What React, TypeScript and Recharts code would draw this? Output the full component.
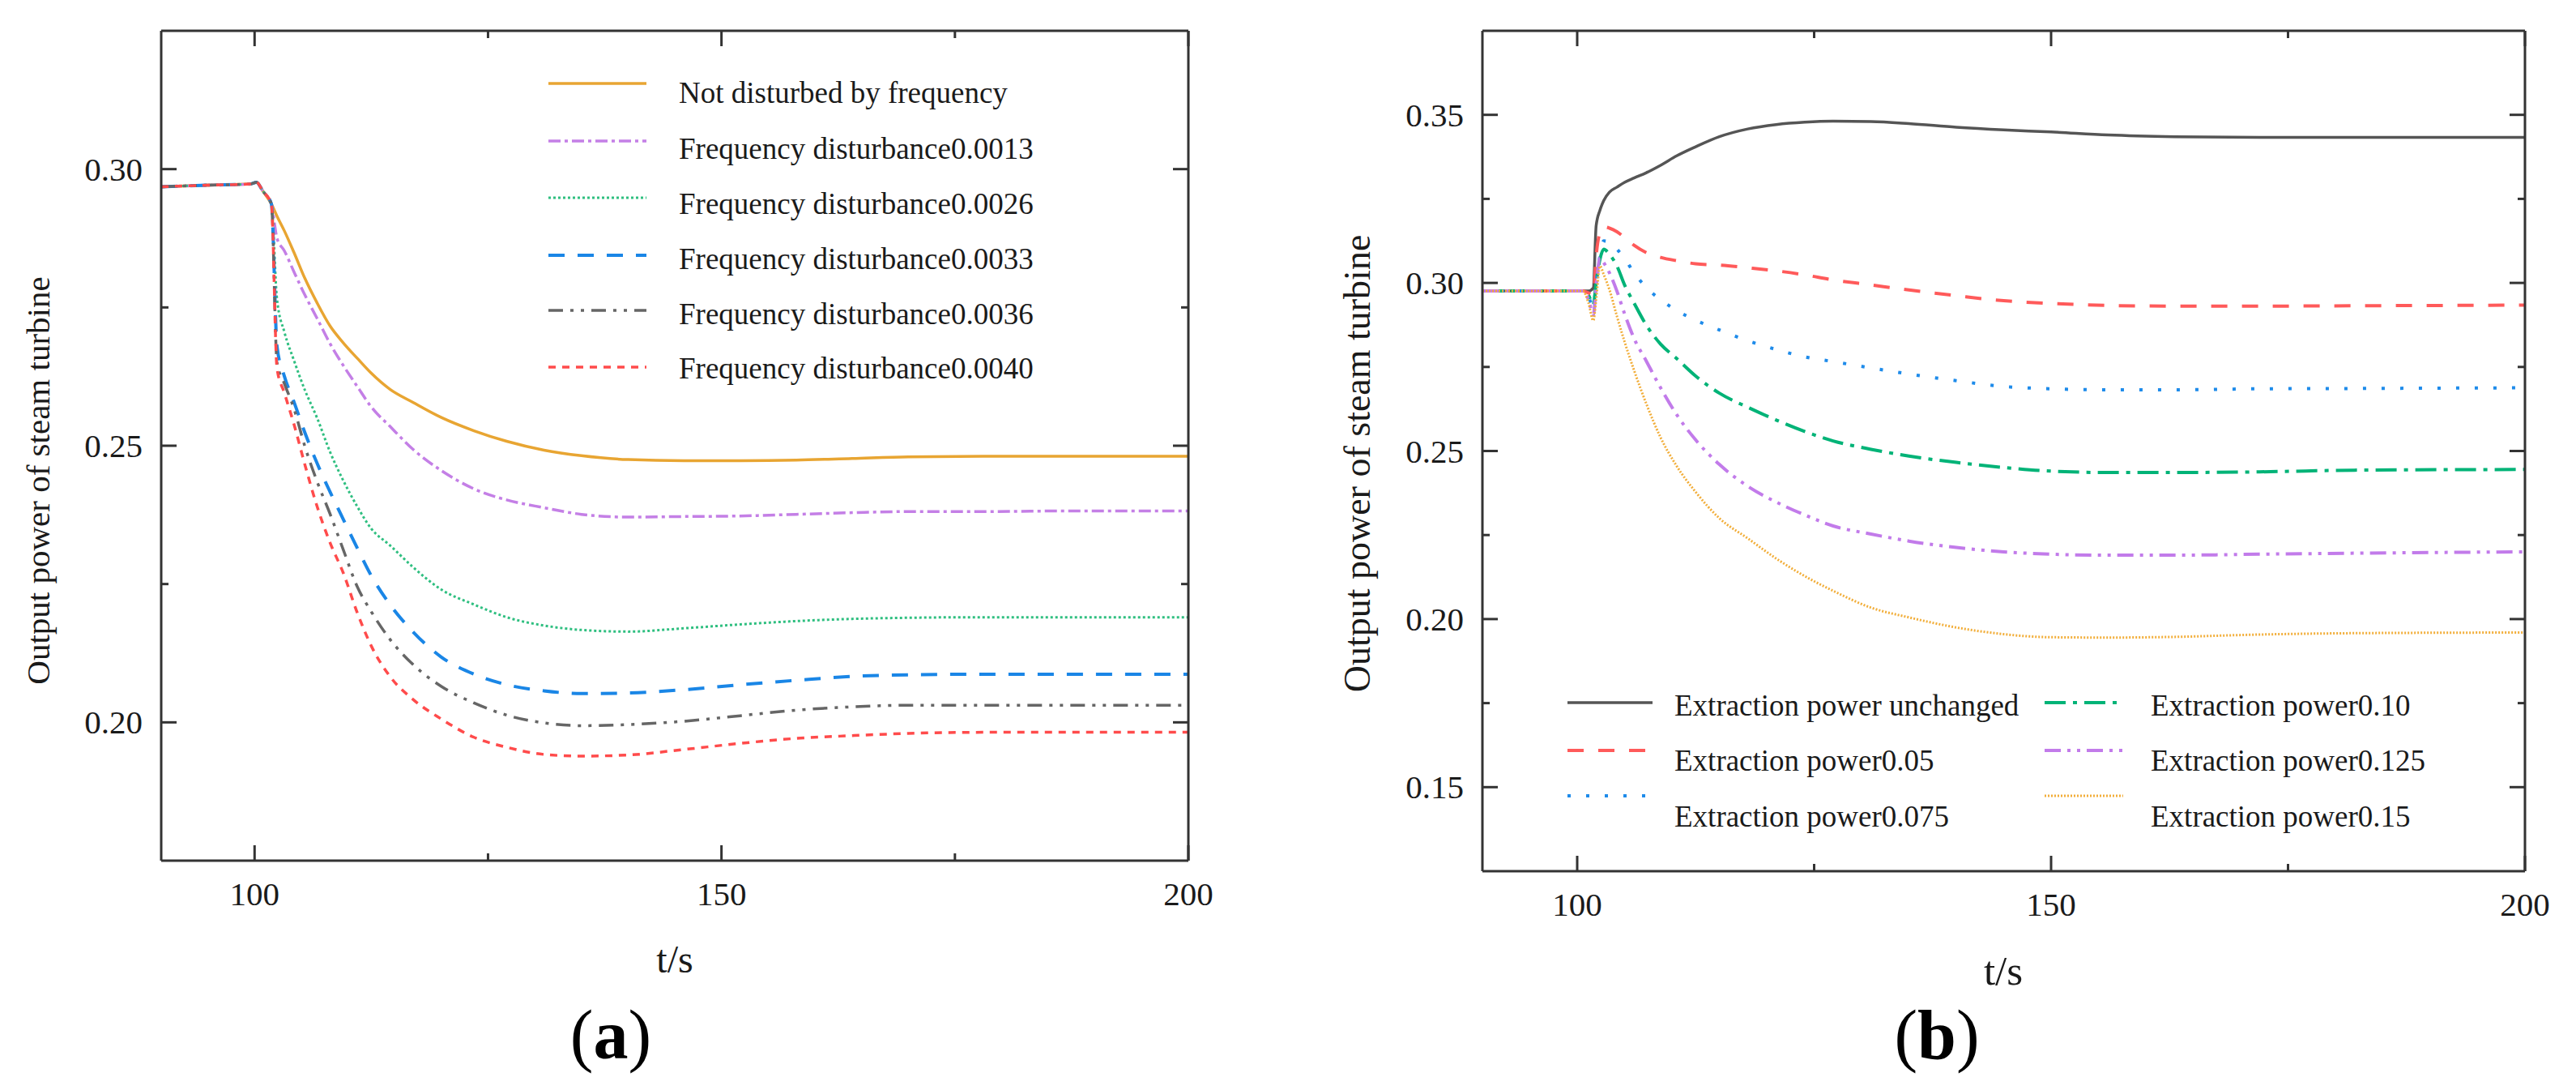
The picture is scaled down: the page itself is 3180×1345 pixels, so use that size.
import React from 'react';
import { LineChart, Line, XAxis, YAxis, Legend } from 'recharts';

const SERIF = '"Liberation Serif", "Times New Roman", Times, serif';
const AXIS = '#333333';
const TEXT = '#1a1a1a';

// ---------- panel (a): frequency disturbance ----------
const timeA = [90, 95, 99.5, 100.2, 100.9, 101.8, 102.4, 103.2, 104.2, 105.4, 106.7, 108.1, 109.5, 111, 112.5, 114.5, 117, 120, 123.5, 127, 131, 135, 140, 146, 152, 158, 164, 170, 178, 186, 200];
const notDisturbed = [0.2968, 0.2971, 0.2973, 0.2976, 0.2960, 0.2937, 0.2915, 0.2888, 0.2850, 0.2802, 0.2758, 0.2716, 0.2686, 0.2658, 0.2631, 0.2602, 0.2578, 0.2551, 0.2527, 0.2508, 0.2492, 0.2482, 0.2475, 0.2473, 0.2473, 0.2474, 0.2477, 0.2480, 0.2481, 0.2481, 0.2481];
const dist0013 = [0.2968, 0.2971, 0.2973, 0.2976, 0.2960, 0.2937, 0.2875, 0.2852, 0.2815, 0.2772, 0.2730, 0.2684, 0.2645, 0.2607, 0.2570, 0.2535, 0.2493, 0.2455, 0.2422, 0.2402, 0.2388, 0.2376, 0.2371, 0.2372, 0.2373, 0.2376, 0.2379, 0.2381, 0.2381, 0.2382, 0.2382];
const dist0026 = [0.2968, 0.2971, 0.2973, 0.2976, 0.2960, 0.2937, 0.2765, 0.2705, 0.2655, 0.2600, 0.2550, 0.2488, 0.2437, 0.2390, 0.2350, 0.2320, 0.2280, 0.2240, 0.2213, 0.2190, 0.2175, 0.2167, 0.2164, 0.2170, 0.2177, 0.2183, 0.2187, 0.2189, 0.2190, 0.2190, 0.2190];
const dist0033 = [0.2968, 0.2971, 0.2973, 0.2976, 0.2960, 0.2937, 0.2680, 0.2625, 0.2580, 0.2523, 0.2468, 0.2416, 0.2367, 0.2315, 0.2265, 0.2213, 0.2163, 0.2118, 0.2087, 0.2068, 0.2057, 0.2052, 0.2053, 0.2059, 0.2068, 0.2076, 0.2083, 0.2086, 0.2087, 0.2087, 0.2087];
const dist0036 = [0.2968, 0.2971, 0.2973, 0.2976, 0.2960, 0.2937, 0.2650, 0.2612, 0.2568, 0.2498, 0.2435, 0.2376, 0.2312, 0.2245, 0.2200, 0.2150, 0.2104, 0.2065, 0.2035, 0.2013, 0.1999, 0.1994, 0.1996, 0.2002, 0.2012, 0.2022, 0.2028, 0.2031, 0.2031, 0.2031, 0.2031];
const dist0040 = [0.2968, 0.2971, 0.2973, 0.2976, 0.2960, 0.2937, 0.2640, 0.2595, 0.2540, 0.2465, 0.2390, 0.2324, 0.2270, 0.2198, 0.2138, 0.2083, 0.2041, 0.2006, 0.1973, 0.1955, 0.1942, 0.1939, 0.1941, 0.1951, 0.1962, 0.1971, 0.1976, 0.1980, 0.1982, 0.1982, 0.1982];

// ---------- panel (b): extraction power ----------
const timeB = [90, 100, 100.6, 101.2, 101.7, 102, 102.4, 102.8, 103.4, 104.2, 105, 106, 107.3, 108.8, 110.5, 112.5, 115, 118, 121, 124, 127, 131, 135, 140, 145, 150, 156, 163, 172, 182, 200];
const extUnchanged = [0.2976, 0.2976, 0.2976, 0.2976, 0.2985, 0.3170, 0.3216, 0.3245, 0.3270, 0.3285, 0.3299, 0.3312, 0.3328, 0.3350, 0.3378, 0.3405, 0.3435, 0.3458, 0.3471, 0.3478, 0.3481, 0.3480, 0.3474, 0.3463, 0.3455, 0.3449, 0.3440, 0.3435, 0.3433, 0.3433, 0.3433];
const ext005 = [0.2976, 0.2976, 0.2976, 0.2970, 0.2965, 0.3080, 0.3150, 0.3167, 0.3163, 0.3152, 0.3135, 0.3112, 0.3090, 0.3076, 0.3066, 0.3057, 0.3053, 0.3045, 0.3036, 0.3024, 0.3009, 0.2994, 0.2979, 0.2962, 0.2947, 0.2939, 0.2933, 0.2931, 0.2931, 0.2932, 0.2934];
const ext0075 = [0.2976, 0.2976, 0.2976, 0.2958, 0.2928, 0.3000, 0.3080, 0.3125, 0.3122, 0.3100, 0.3073, 0.3030, 0.2986, 0.2950, 0.2918, 0.2889, 0.2860, 0.2828, 0.2802, 0.2780, 0.2766, 0.2747, 0.2729, 0.2709, 0.2692, 0.2685, 0.2682, 0.2682, 0.2685, 0.2686, 0.2688];
const ext010 = [0.2976, 0.2976, 0.2976, 0.2963, 0.2935, 0.3000, 0.3070, 0.3100, 0.3085, 0.3050, 0.2994, 0.2940, 0.2874, 0.2818, 0.2775, 0.2723, 0.2672, 0.2630, 0.2592, 0.2558, 0.2530, 0.2505, 0.2485, 0.2466, 0.2451, 0.2440, 0.2436, 0.2436, 0.2438, 0.2443, 0.2445];
const ext0125 = [0.2976, 0.2976, 0.2976, 0.2950, 0.2905, 0.2990, 0.3075, 0.3060, 0.3030, 0.2975, 0.2908, 0.2835, 0.2767, 0.2688, 0.2608, 0.2533, 0.2460, 0.2395, 0.2348, 0.2310, 0.2277, 0.2253, 0.2232, 0.2213, 0.2200, 0.2193, 0.2190, 0.2190, 0.2193, 0.2196, 0.2200];
const ext015 = [0.2976, 0.2976, 0.2976, 0.2940, 0.2888, 0.2950, 0.3050, 0.3025, 0.2980, 0.2900, 0.2825, 0.2740, 0.2640, 0.2540, 0.2455, 0.2378, 0.2300, 0.2240, 0.2180, 0.2128, 0.2084, 0.2034, 0.2005, 0.1975, 0.1955, 0.1946, 0.1945, 0.1947, 0.1954, 0.1958, 0.1960];

// ticks
const xTicks = [100, 125, 150, 175, 200];
const xMajor = [100, 150, 200];
const yTicksA = [0.2, 0.225, 0.25, 0.275, 0.3];
const yMajorA = [0.2, 0.25, 0.3];
const yTicksB = [0.15, 0.175, 0.2, 0.225, 0.25, 0.275, 0.3, 0.325, 0.35];
const yMajorB = [0.15, 0.2, 0.25, 0.3, 0.35];

type Series = { key: string; name: string; color: string; dash?: string; width: number };

const seriesA: Series[] = [
  { key: 'notDisturbed', name: 'Not disturbed by frequency', color: '#E8A532', width: 3.5 },
  { key: 'd0013', name: 'Frequency disturbance0.0013', color: '#C47FE6', dash: '15 5 4 5', width: 3.5 },
  { key: 'd0026', name: 'Frequency disturbance0.0026', color: '#2FBF80', dash: '3 3', width: 3 },
  { key: 'd0033', name: 'Frequency disturbance0.0033', color: '#1A86E6', dash: '20 16', width: 4 },
  { key: 'd0036', name: 'Frequency disturbance0.0036', color: '#666666', dash: '18 9 4 9 4 9', width: 3.5 },
  { key: 'd0040', name: 'Frequency disturbance0.0040', color: '#FF4B4B', dash: '9 8', width: 3.5 },
];

const seriesB: Series[] = [
  { key: 'unchanged', name: 'Extraction power unchanged', color: '#555555', width: 3.5 },
  { key: 'e005', name: 'Extraction power0.05', color: '#FF5A5A', dash: '20 18', width: 4 },
  { key: 'e0075', name: 'Extraction power0.075', color: '#1E8BEA', dash: '4 19', width: 4 },
  { key: 'e010', name: 'Extraction power0.10', color: '#00B377', dash: '26 9 5 9', width: 4 },
  { key: 'e0125', name: 'Extraction power0.125', color: '#C27BEA', dash: '20 8 4 8 4 8', width: 4 },
  { key: 'e015', name: 'Extraction power0.15', color: '#F2AE3A', dash: '2 2', width: 3 },
];

const rowsA = timeA.map((t, i) => ({
  t,
  notDisturbed: notDisturbed[i],
  d0013: dist0013[i],
  d0026: dist0026[i],
  d0033: dist0033[i],
  d0036: dist0036[i],
  d0040: dist0040[i],
}));

const rowsB = timeB.map((t, i) => ({
  t,
  unchanged: extUnchanged[i],
  e005: ext005[i],
  e0075: ext0075[i],
  e010: ext010[i],
  e0125: ext0125[i],
  e015: ext015[i],
}));

type Side = 'bottom' | 'top' | 'left' | 'right';

// inward tick marks on all four sides, labels only on bottom/left majors
const makeTick = (side: Side, majors: number[], fmt?: (v: number) => string) => (props: any) => {
  const { x, y, payload } = props;
  const v = Number(payload.value);
  const major = majors.some((m) => Math.abs(m - v) < 1e-9);
  const len = major ? 19 : 9;
  let pts;
  if (side === 'bottom') pts = { x1: x, x2: x, y1: y, y2: y - len };
  else if (side === 'top') pts = { x1: x, x2: x, y1: y, y2: y + len };
  else if (side === 'left') pts = { x1: x, x2: x + len, y1: y, y2: y };
  else pts = { x1: x, x2: x - len, y1: y, y2: y };
  return (
    <g>
      <line {...pts} stroke={AXIS} strokeWidth={3} />
      {major && fmt && side === 'bottom' && (
        <text x={x} y={y + 55} textAnchor="middle" fontFamily={SERIF} fontSize={41} fill={TEXT}>
          {fmt(v)}
        </text>
      )}
      {major && fmt && side === 'left' && (
        <text x={x - 23} y={y + 14} textAnchor="end" fontFamily={SERIF} fontSize={41} fill={TEXT}>
          {fmt(v)}
        </text>
      )}
    </g>
  );
};

const fmtX = (v: number) => String(v);
const fmtY = (v: number) => v.toFixed(2);
const axisLine = { stroke: AXIS, strokeWidth: 3 };

type LegendSpot = { x1: number; x2: number; lineY: number; tx: number; ty: number };

const legendSpotsA: LegendSpot[] = [103, 174, 244, 315, 383, 453].map((lineY, i) => ({
  x1: 677,
  x2: 798,
  lineY,
  tx: 838,
  ty: [127, 196, 264, 332, 400, 467][i],
}));

const legendSpotsB: LegendSpot[] = [
  { x1: 345, x2: 450, lineY: 867, tx: 477, ty: 883 },
  { x1: 345, x2: 450, lineY: 926, tx: 477, ty: 951 },
  { x1: 345, x2: 450, lineY: 982, tx: 477, ty: 1020 },
  { x1: 934, x2: 1031, lineY: 867, tx: 1065, ty: 883 },
  { x1: 934, x2: 1031, lineY: 926, tx: 1065, ty: 951 },
  { x1: 934, x2: 1031, lineY: 982, tx: 1065, ty: 1020 },
];

const LegendBox = ({ series, spots }: { series: Series[]; spots: LegendSpot[] }) => (
  <svg width={1590} height={1345} style={{ overflow: 'visible', display: 'block', pointerEvents: 'none' }}>
    {series.map((s, i) => {
      const p = spots[i];
      return (
        <g key={s.key}>
          <line x1={p.x1} x2={p.x2} y1={p.lineY} y2={p.lineY} stroke={s.color} strokeWidth={s.width} strokeDasharray={s.dash} />
          <text x={p.tx} y={p.ty} fontFamily={SERIF} fontSize={37} fill={TEXT}>
            {s.name}
          </text>
        </g>
      );
    })}
  </svg>
);

type PanelProps = {
  rows: any[];
  series: Series[];
  spots: LegendSpot[];
  yDomain: [number, number];
  yTicks: number[];
  yMajor: number[];
  yAxisWidth: number;
  xAxisHeight: number;
  marginRight: number;
  yLabel: { x: number; y: number; size: number };
  xLabel: { x: number; y: number; size: number };
};

const Panel = (p: PanelProps) => (
  <LineChart width={1590} height={1345} data={p.rows} margin={{ top: 37, right: p.marginRight - 1, bottom: 0, left: 0 }}>
    <XAxis
      dataKey="t"
      type="number"
      domain={[90, 200]}
      allowDataOverflow
      ticks={xTicks}
      interval={0}
      height={p.xAxisHeight}
      tickSize={0}
      tickMargin={0}
      tickLine={false}
      axisLine={axisLine}
      tick={makeTick('bottom', xMajor, fmtX)}
      label={() => (
        <text x={p.xLabel.x} y={p.xLabel.y} textAnchor="middle" fontFamily={SERIF} fontSize={p.xLabel.size} fill={TEXT}>
          t/s
        </text>
      )}
    />
    <XAxis
      xAxisId="top"
      dataKey="t"
      orientation="top"
      type="number"
      domain={[90, 200]}
      allowDataOverflow
      ticks={xTicks}
      interval={0}
      height={1}
      tickSize={0}
      tickMargin={0}
      tickLine={false}
      axisLine={axisLine}
      tick={makeTick('top', xMajor)}
    />
    <YAxis
      type="number"
      domain={p.yDomain}
      allowDataOverflow
      ticks={p.yTicks}
      interval={0}
      width={p.yAxisWidth}
      tickSize={0}
      tickMargin={0}
      tickLine={false}
      axisLine={axisLine}
      tick={makeTick('left', p.yMajor, fmtY)}
      label={() => (
        <text
          x={p.yLabel.x}
          y={p.yLabel.y}
          transform={`rotate(-90 ${p.yLabel.x} ${p.yLabel.y})`}
          textAnchor="middle"
          dominantBaseline="central"
          fontFamily={SERIF}
          fontSize={p.yLabel.size}
          fill={TEXT}
        >
          Output power of steam turbine
        </text>
      )}
    />
    <YAxis
      yAxisId="right"
      orientation="right"
      type="number"
      domain={p.yDomain}
      allowDataOverflow
      ticks={p.yTicks}
      interval={0}
      width={1}
      tickSize={0}
      tickMargin={0}
      tickLine={false}
      axisLine={axisLine}
      tick={makeTick('right', p.yMajor)}
    />
    <Legend
      layout="horizontal"
      verticalAlign="middle"
      align="center"
      wrapperStyle={{ position: 'absolute', left: 0, top: 0, width: 1590, height: 0 }}
      content={() => <LegendBox series={p.series} spots={p.spots} />}
    />
    {/* invisible copy so the mirrored top/right axes have data of their own */}
    <Line
      xAxisId="top"
      yAxisId="right"
      dataKey={p.series[0].key}
      stroke="none"
      dot={false}
      activeDot={false}
      legendType="none"
      isAnimationActive={false}
    />
    {p.series.map((s) => (
      <Line
        key={s.key}
        dataKey={s.key}
        name={s.name}
        type="monotone"
        stroke={s.color}
        strokeWidth={s.width}
        strokeDasharray={s.dash}
        dot={false}
        activeDot={false}
        isAnimationActive={false}
      />
    ))}
  </LineChart>
);

export default function App() {
  return (
    <div style={{ position: 'relative', width: 3180, height: 1345, background: '#fff', overflow: 'hidden' }}>
      <style>{'body{margin:0}'}</style>
      <div style={{ position: 'absolute', left: 0, top: 0 }}>
        <Panel
          rows={rowsA}
          series={seriesA}
          spots={legendSpotsA}
          yDomain={[0.175, 0.325]}
          yTicks={yTicksA}
          yMajor={yMajorA}
          yAxisWidth={199}
          xAxisHeight={283}
          marginRight={123}
          yLabel={{ x: 47, y: 593, size: 41 }}
          xLabel={{ x: 833, y: 1200, size: 48 }}
        />
      </div>
      <div style={{ position: 'absolute', left: 1590, top: 0 }}>
        <Panel
          rows={rowsB}
          series={seriesB}
          spots={legendSpotsB}
          yDomain={[0.125, 0.375]}
          yTicks={yTicksB}
          yMajor={yMajorB}
          yAxisWidth={240}
          xAxisHeight={270}
          marginRight={63}
          yLabel={{ x: 85, y: 572, size: 46 }}
          xLabel={{ x: 883, y: 1215, size: 51 }}
        />
      </div>
      <svg width={3180} height={1345} style={{ position: 'absolute', left: 0, top: 0, pointerEvents: 'none' }}>
        <text x={754} y={1306} textAnchor="middle" fontFamily={SERIF} fontSize={86} fill="#000">
          <tspan>(</tspan>
          <tspan fontWeight="bold">a</tspan>
          <tspan>)</tspan>
        </text>
        <text x={2391} y={1306} textAnchor="middle" fontFamily={SERIF} fontSize={86} fill="#000">
          <tspan>(</tspan>
          <tspan fontWeight="bold">b</tspan>
          <tspan>)</tspan>
        </text>
      </svg>
    </div>
  );
}
